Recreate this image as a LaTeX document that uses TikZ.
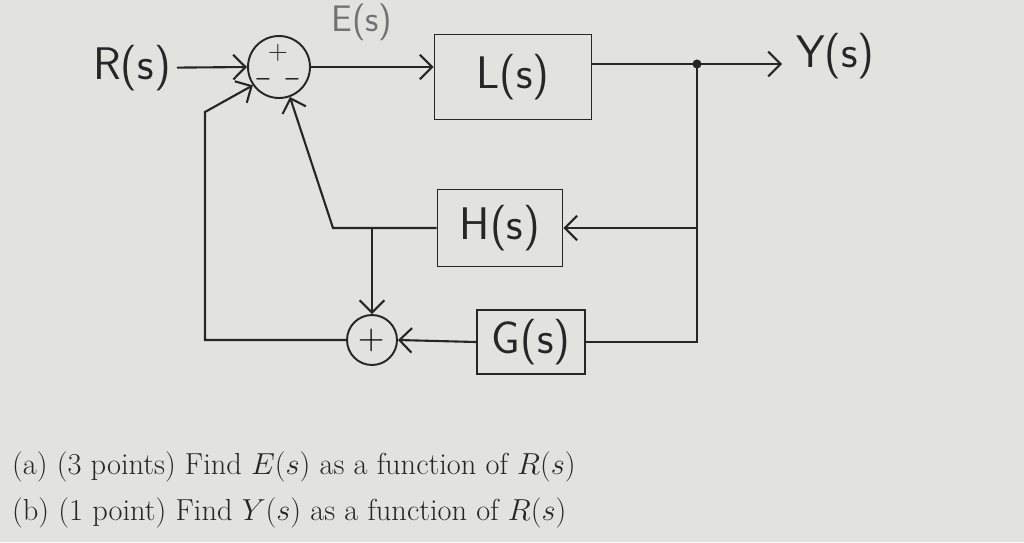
\RequirePackage{fix-cm}
\documentclass[tikz,border=0pt]{standalone}
\usepackage{fontspec}
\usetikzlibrary{arrows.meta}
\definecolor{paper}{RGB}{226,226,223}
\definecolor{ink}{RGB}{38,38,38}
\tikzset{
  hand/.style={font=\sffamily\fontsize{26}{30}\selectfont, text=ink},
  blk/.style={draw=ink, line width=1pt, hand},
  sumj/.style={draw=ink, circle, line width=1.1pt, inner sep=0pt},
  sgn/.style={font=\sffamily\fontsize{15}{18}\selectfont, inner sep=0pt, text=ink},
  wire/.style={draw=ink, line width=1.2pt},
  sig/.style={wire, -{Straight Barb[length=7pt, width=14pt]}},
  quest/.style={anchor=base west, font=\fontsize{17.3}{20}\selectfont, text=black!85}
}

\begin{document}
\begin{tikzpicture}[x=0.02cm, y=-0.02cm]
\fill[paper] (0,0) rectangle (1024,542); \useasboundingbox (0,0) rectangle (1024,542);
% forward path
\node[hand] (R) at (132,68) {R(s)};
\node[sumj, minimum size=1.24cm] (S1) at (279,67) {}; \node[sgn] (p1) at (278,53) {+}; \node[sgn] (m1) at (263,82) {--}; \node[sgn] (m2) at (292,82) {--};
\node[blk, minimum width=3.14cm, minimum height=1.7cm] (L) at (513,77) {L(s)};
\node[hand, font=\sffamily\fontsize{21}{24}\selectfont, text=ink!65, anchor=north, inner sep=0pt] (E) at (362,4) {E(s)};
\coordinate (Yout) at (782,64); \node[hand, anchor=west] (Y) at (790,56) {Y(s)};
\coordinate (dot) at (697,64);
% feedback blocks
\node[blk, minimum width=2.5cm, minimum height=1.54cm] (H) at (500,228) {H(s)};
\node[blk, minimum width=2.16cm, minimum height=1.28cm] (G) at (531,342) {G(s)};
\node[sumj, minimum size=1cm, font=\huge] (S2) at (372,340) {+};
\coordinate (hl) at (333,228); \coordinate (ft) at (205,112);
% connectors
\draw[sig] (R) -- (S1.west); \draw[sig] (S1.east) -- (S1.east -| L.west); \draw[sig] (L.east |- Yout) -- (Yout);
\fill[ink] (dot) circle (2.6pt);
\draw[sig] (dot) |- (H.east); \draw[wire] (dot) |- (G.east);
\draw[sig] (H.west) -- (hl) -- (S1.-70); \draw[sig] (S2.north |- H.west) -- (S2.north);
\draw[sig] (G.west) -- (S2.east); \draw[sig] (S2.west) -| (ft) -- (S1.-145);
% questions
\node[quest] (qa) at (6,474) {(a) (3 points) Find $E(s)$ as a function of $R(s)$};
\node[quest] (qb) at (6,520) {(b) (1 point) Find $Y(s)$ as a function of $R(s)$};
\end{tikzpicture}
\end{document}
